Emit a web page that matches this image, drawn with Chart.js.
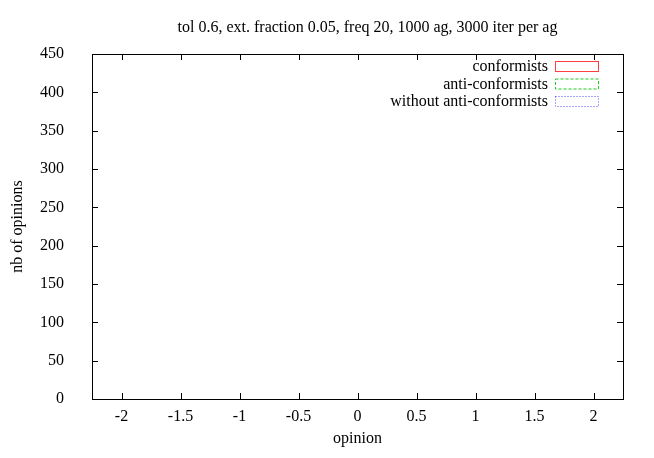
<!DOCTYPE html>
<html><head><script src="https://cdn.jsdelivr.net/npm/chart.js@4"></script>
<style>body{margin:0;background:#fff}#w{width:654px;height:458px}</style></head>
<body><div id="w"><canvas id="c"></canvas></div>
<script>
const binWidth = 0.04;
const leftStart = -1.36;
const leftConf = [4,18,14,13,5,14,10,24,18,36,32,14,56,100,59,48,5];
const leftAnti = [0,0,1,0,1,1,2,1,2,2,2,3,3,5,3,2,1];
const rightStart = 0.60;
const rightConf = [26,28,85,117,79,35,14,13,14,0,4,14,6,0,3,3,7,3];
const rightAnti = [1,2,4,6,5,3,2,1,1,0,0,1,0,0,0,0,0,0];
const blueWidth = 0.02;
const blueStart = -0.09;
const blueVals = [20,90,280,440,160,5];
const xTicks = [-2,-1.5,-1,-0.5,0,0.5,1,1.5,2];
const yTicks = [0,50,100,150,200,250,300,350,400,450];
const titleText = 'tol 0.6, ext. fraction 0.05, freq 20, 1000 ag, 3000 iter per ag';

function pts(start, w, vals){ return vals.map((v,i)=>({x:+(start+w*(i+0.5)).toFixed(3), y:v})); }
const conf = pts(leftStart,binWidth,leftConf).concat(pts(rightStart,binWidth,rightConf));
const anti = pts(leftStart,binWidth,leftAnti).concat(pts(rightStart,binWidth,rightAnti));
const blue = pts(blueStart,blueWidth,blueVals);
const F = '"Liberation Serif", serif';

const deco = {
  id:'deco',
  afterDraw(ch){
    const c=ch.ctx, a=ch.chartArea, xs=ch.scales.x, ys=ch.scales.y;
    c.save();
    c.strokeStyle='#000'; c.lineWidth=1;
    c.strokeRect(a.left+0.5,a.top+0.5,a.right-a.left,a.bottom-a.top);
    c.beginPath();
    xTicks.forEach(t=>{const p=Math.round(xs.getPixelForValue(t))+0.5;
      c.moveTo(p,a.bottom);c.lineTo(p,a.bottom-6);c.moveTo(p,a.top);c.lineTo(p,a.top+6);});
    yTicks.forEach(t=>{const p=Math.round(ys.getPixelForValue(t))+0.5;
      c.moveTo(a.left,p);c.lineTo(a.left+6,p);c.moveTo(a.right,p);c.lineTo(a.right-6,p);});
    c.stroke();
    c.fillStyle='#000'; c.font='16px '+F; c.textAlign='center'; c.textBaseline='middle';
    c.fillText(titleText,(a.left+a.right)/2+10,28);
    c.fillText('opinion',(a.left+a.right)/2,439);
    c.translate(18,(a.top+a.bottom)/2); c.rotate(-Math.PI/2); c.fillText('nb of opinions',0,0);
    c.restore();
    const items=[['conformists','rgba(255,0,0,0.75)',[]],['anti-conformists','rgba(0,200,0,0.9)',[3,2]],['without anti-conformists','rgba(0,0,255,0.7)',[1,2]]];
    c.save(); c.font='16px '+F; c.textAlign='right'; c.textBaseline='middle';
    items.forEach((it,i)=>{const y=67+i*17.5;
      c.fillStyle='#000'; c.fillText(it[0],548,y);
      c.strokeStyle=it[1]; c.setLineDash(it[2]); c.lineWidth=1;
      c.strokeRect(555.5,y-5.5,43,10);});
    c.restore();
  }
};

const common = {backgroundColor:'rgba(0,0,0,0)',grouped:false,barPercentage:1,categoryPercentage:1,barThickness:'flex'};
new Chart(document.getElementById('c'),{
  type:'bar',
  data:{datasets:[
    Object.assign({label:'conformists',data:conf,xAxisID:'x',borderColor:'rgba(255,0,0,0.6)',borderWidth:1.3},common),
    Object.assign({label:'anti-conformists',data:anti,xAxisID:'x',borderColor:'rgba(0,200,0,0.8)',borderWidth:1,borderDash:[3,2]},common),
    Object.assign({label:'without',data:blue,xAxisID:'x2',borderColor:'rgba(0,0,255,0.55)',borderWidth:1,borderDash:[1,1.5]},common)
  ]},
  options:{responsive:true,maintainAspectRatio:false,animation:false,
    layout:{padding:{top:54,right:31,left:0,bottom:0}},
    plugins:{legend:{display:false},tooltip:{enabled:false}},
    scales:{
      x:{type:'linear',min:-2,max:2,grid:{display:false},border:{display:false},
        afterBuildTicks(s){s.ticks=xTicks.map(v=>({value:v}));},
        afterFit(s){s.height=59;},
        ticks:{color:'#000',font:{family:F,size:16},padding:0,maxRotation:0,autoSkip:false,callback:v=>String(v)}},
      x2:{type:'linear',min:-2,max:2,display:false},
      y:{min:0,max:450,grid:{display:false},border:{display:false},
        afterBuildTicks(s){s.ticks=yTicks.map(v=>({value:v}));},
        afterFit(s){s.width=92;},
        ticks:{color:'#000',font:{family:F,size:16},padding:20,callback:v=>String(v)}}
    }},
  plugins:[deco]
});
</script></body></html>
